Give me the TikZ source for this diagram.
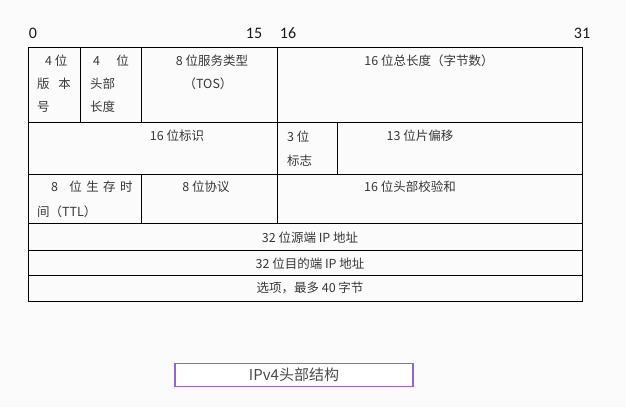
\documentclass[tikz,border=0pt]{standalone}
\usepackage{fontspec}
\setmainfont{Carlito}
\newfontfamily\cjk{Noto Sans CJK SC}
\begin{document}
\begin{tikzpicture}[x=1pt,y=-1pt,
  cell/.style={inner sep=0pt,font=\cjk\fontsize{12.5}{14}\selectfont,text=black!78},
  bitnum/.style={inner sep=0pt,font=\fontsize{16}{18}\selectfont,text=black!90},
  grid/.style={draw=black,line width=0.8pt}]
\fill[white!97!gray] (0,0) rectangle (626,407);
\useasboundingbox (0,0) rectangle (626,407);
% bit numbers
\node[bitnum] (b0) at (33,33) {0};
\node[bitnum] (b15) at (254,33) {15};
\node[bitnum] (b16) at (288,33) {16};
\node[bitnum] (b31) at (582,33) {31};
% table grid
\draw[grid] (28,47) rectangle (582,301);
\draw[grid] (28,122) -- (582,122);
\draw[grid] (28,174) -- (582,174);
\draw[grid] (28,223) -- (582,223);
\draw[grid] (28,250) -- (582,250);
\draw[grid] (28,275) -- (582,275);
\draw[grid] (80,47) -- (80,122);
\draw[grid] (141,47) -- (141,122);
\draw[grid] (277,47) -- (277,223);
\draw[grid] (337,122) -- (337,174);
\draw[grid] (141,174) -- (141,223);
% row 1
\node[cell,anchor=west] (v1) at (45,61) {4 位};
\node[cell,anchor=west] (v2) at (37,84) {版\hspace{0.7em}本};
\node[cell,anchor=west] (v3) at (37,107) {号};
\node[cell,anchor=west] (h1) at (93,61) {4\hspace{1.3em}位};
\node[cell,anchor=west] (h2) at (90,84) {头部};
\node[cell,anchor=west] (h3) at (90,107) {长度};
\node[cell] (tos1) at (212,61) {8 位服务类型};
\node[cell] (tos2) at (208,84) {（TOS）};
\node[cell] (len) at (429,61) {16 位总长度（字节数）};
% row 2
\node[cell] (id) at (177,136) {16 位标识};
\node[cell,anchor=west] (fl1) at (287,137) {3 位};
\node[cell,anchor=west] (fl2) at (287,161) {标志};
\node[cell] (off) at (420,136) {13 位片偏移};
% row 3
\node[cell,anchor=west] (ttl1) at (51,187) {8\hspace{0.9em}位\hspace{0.35em}生\hspace{0.35em}存\hspace{0.35em}时};
\node[cell,anchor=west] (ttl2) at (37,212) {间（TTL）};
\node[cell] (proto) at (206,187) {8 位协议};
\node[cell] (csum) at (410,187) {16 位头部校验和};
% rows 4-6
\node[cell] (src) at (310,238) {32 位源端 IP 地址};
\node[cell] (dst) at (310,264) {32 位目的端 IP 地址};
\node[cell] (opt) at (310,288) {选项，最多 40 字节};
% caption
\node[draw=violet!55!blue!60,line width=1.4pt,fill=white,minimum width=238pt,minimum height=23pt,inner sep=0pt,
  font=\cjk\fontsize{15}{17}\selectfont,text=black!70] (cap) at (294,375) {IPv4头部结构};
\end{tikzpicture}
\end{document}
